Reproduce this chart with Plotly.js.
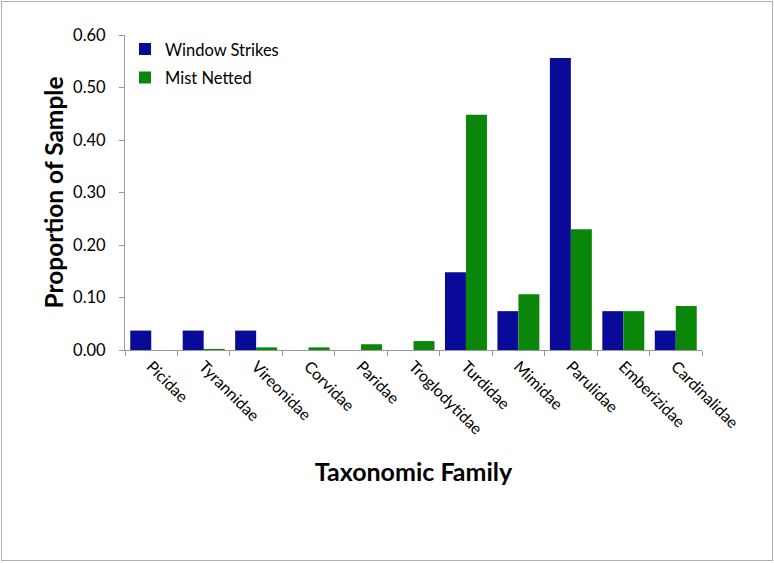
<!DOCTYPE html>
<html>
<head>
<meta charset="utf-8">
<script src="https://cdn.plot.ly/plotly-3.0.1.min.js"></script>
<style>
  html, body { margin: 0; padding: 0; background: #fff; }
  #wrap { position: relative; width: 774px; height: 563px; }
  #chart { width: 774px; height: 563px; }
  #frame { position: absolute; left: 1px; top: 1px; width: 770px; height: 558px; border: 1px solid #b0b0b0; pointer-events: none; }
</style>
</head>
<body>
<div id="wrap"><div id="chart"></div><div id="frame"></div></div>
<script>
const families = ["Picidae", "Tyrannidae", "Vireonidae", "Corvidae", "Paridae", "Troglodytidae",
                  "Turdidae", "Mimidae", "Parulidae", "Emberizidae", "Cardinalidae"];
const windowStrikes = [0.037, 0.037, 0.037, 0, 0, 0, 0.148, 0.074, 0.556, 0.074, 0.037];
const mistNetted = [0, 0.002, 0.005, 0.005, 0.011, 0.017, 0.448, 0.106, 0.230, 0.074, 0.084];
const seriesNames = ["Window Strikes", "Mist Netted"];
const yTicks = [0, 0.1, 0.2, 0.3, 0.4, 0.5, 0.6];

const font = "Lato, 'Open Sans', sans-serif";

const traces = [
  {
    type: "bar", name: seriesNames[0], x: families, y: windowStrikes,
    legendgroup: "a",
    marker: { color: "#0a0a98", line: { width: 0 } }
  },
  {
    type: "bar", name: seriesNames[1], x: families, y: mistNetted,
    legendgroup: "b",
    marker: { color: "#0a860a", line: { width: 0 } }
  }
];

const layout = {
  width: 774, height: 563,
  margin: { l: 125, r: 72, t: 35, b: 213 },
  paper_bgcolor: "#ffffff", plot_bgcolor: "#ffffff",
  barmode: "group", bargap: 0.2, bargroupgap: 0,
  showlegend: true,
  legend: {
    x: 0.0, y: 1.01, xanchor: "left", yanchor: "top",
    font: { family: font, size: 16.5, color: "#000" },
    bgcolor: "rgba(0,0,0,0)", traceorder: "grouped", tracegroupgap: 4,
    itemwidth: 30
  },
  xaxis: {
    type: "category",
    tickangle: 45,
    tickson: "boundaries",
    ticks: "outside", ticklen: 5, tickcolor: "#999",
    showline: true, linecolor: "#999", linewidth: 1,
    showgrid: false,
    tickfont: { family: font, size: 16, color: "#000" },
    title: { text: "<b>Taxonomic Family</b>", font: { family: font, size: 25, color: "#000" }, standoff: 26 }
  },
  yaxis: {
    range: [0, 0.6],
    tickvals: yTicks,
    tickformat: ".2f",
    ticks: "outside", ticklen: 5, tickcolor: "#999",
    showline: true, linecolor: "#999", linewidth: 1,
    showgrid: false, zeroline: false,
    ticklabelstandoff: 10,
    tickfont: { family: font, size: 16.5, color: "#000" },
    title: { text: "<b>Proportion of Sample</b>", font: { family: font, size: 24.5, color: "#000" }, standoff: 2 }
  }
};

Plotly.newPlot("chart", traces, layout, { displayModeBar: false, staticPlot: true });
</script>
</body>
</html>
